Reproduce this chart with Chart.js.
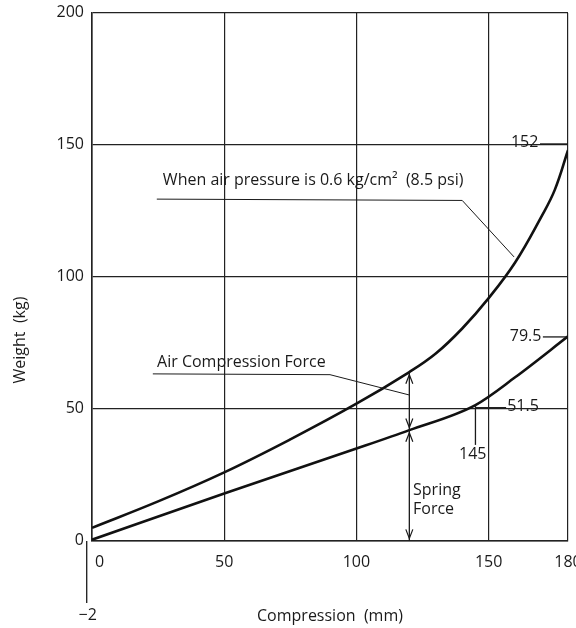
<!DOCTYPE html>
<html>
<head>
<meta charset="utf-8">
<script src="https://cdn.jsdelivr.net/npm/chart.js@4"></script>
<style>
  html, body { margin: 0; padding: 0; background: #fff; }
  #wrap { width: 576px; height: 628px; }
</style>
</head>
<body>
<div id="wrap"><canvas id="c" width="576" height="628"></canvas></div>
<script>
// compression (mm) vs weight (kg)
const upperX = [0, 25, 50, 75, 100, 120, 130, 140, 150, 160, 170, 175, 180];
const upperY = [5, 15, 26, 38.5, 52, 64, 71, 80.5, 92, 105.5, 123, 133, 148];
const lowerX = [0, 50, 100, 120, 145, 160, 180];
const lowerY = [0.5, 18, 35, 42, 51.5, 62, 77.5];

const xTicks = [0, 50, 100, 150, 180];
const yTicks = [0, 50, 100, 150, 200];

const FONT = '"Open Sans", "DejaVu Sans", sans-serif';

const toPts = (xs, ys) => xs.map((x, i) => ({ x: x, y: ys[i] }));

// labels, leader lines and arrows, all placed through the scales
const overlay = {
  id: "overlay",
  afterDraw(chart) {
    const ctx = chart.ctx;
    const sx = chart.scales.x;
    const sy = chart.scales.y;
    const px = (v) => sx.getPixelForValue(v);
    const py = (v) => sy.getPixelForValue(v);
    const area = chart.chartArea;

    ctx.save();
    ctx.fillStyle = "#1a1a1a";
    ctx.strokeStyle = "#1a1a1a";

    // tick labels
    ctx.font = "16px " + FONT;
    ctx.textBaseline = "middle";
    ctx.textAlign = "right";
    yTicks.forEach((t) => ctx.fillText(String(t), area.left - 8, py(t) - 1));
    xTicks.forEach((t) => {
      ctx.textAlign = t === 0 ? "left" : "center";
      ctx.fillText(String(t), t === 0 ? px(t) + 3 : px(t), area.bottom + 21);
    });

    // -2 mark below the origin
    ctx.lineWidth = 1.3;
    ctx.beginPath();
    ctx.moveTo(px(-2), area.bottom);
    ctx.lineTo(px(-2), area.bottom + 62);
    ctx.stroke();
    ctx.textAlign = "center";
    ctx.fillText("\u22122", px(-2) + 1, area.bottom + 74);

    // axis titles
    ctx.font = "16px " + FONT;
    ctx.fillText("Compression  (mm)", 330, area.bottom + 75);
    ctx.save();
    ctx.translate(20, 340);
    ctx.rotate(-Math.PI / 2);
    ctx.fillText("Weight  (kg)", 0, 0);
    ctx.restore();

    // annotation text
    ctx.textAlign = "left";
    ctx.fillText("When air pressure is 0.6 kg/cm\u00b2  (8.5 psi)", px(26.8), py(136.4));
    ctx.fillText("Air Compression Force", px(24.6), py(67.8));
    ctx.fillText("Spring", px(121.4), py(19.3));
    ctx.fillText("Force", px(121.4), py(12.1));
    ctx.fillText("152", px(158.4), py(150.8));
    ctx.fillText("79.5", px(158), py(77.3));
    ctx.fillText("51.5", px(157), py(51.1));
    ctx.textAlign = "center";
    ctx.fillText("145", px(144), py(32.6));

    // leader lines
    const poly = (pts, w) => {
      ctx.lineWidth = w;
      ctx.beginPath();
      pts.forEach((p, i) => (i ? ctx.lineTo(px(p[0]), py(p[1])) : ctx.moveTo(px(p[0]), py(p[1]))));
      ctx.stroke();
    };
    poly([[24.5, 129.5], [140, 129], [159.6, 107.6]], 1);
    poly([[23, 63.3], [90, 63], [120, 55.3]], 1);
    poly([[145, 51.5], [145, 36.4]], 1.3);
    poly([[145, 50.5], [156.6, 50.5]], 1.3);
    poly([[169.4, 150.4], [180, 150.4]], 1.3);
    poly([[170.5, 77.3], [180, 77.3]], 1.3);

    // double arrows at 120 mm
    const arrowHead = (x, y, dir) => {
      const X = px(x), Y = py(y);
      ctx.lineWidth = 1.2;
      ctx.beginPath();
      ctx.moveTo(X - 3.5, Y + dir * 9);
      ctx.lineTo(X, Y);
      ctx.lineTo(X + 3.5, Y + dir * 9);
      ctx.stroke();
    };
    poly([[120, 64], [120, 42]], 1.3);
    arrowHead(120, 63, 1);
    arrowHead(120, 43, -1);
    poly([[120, 42], [120, 0]], 1.3);
    arrowHead(120, 41, 1);
    arrowHead(120, 1, -1);

    ctx.restore();
  },
};

new Chart(document.getElementById("c"), {
  type: "line",
  data: {
    datasets: [
      {
        label: "Total",
        data: toPts(upperX, upperY),
        borderColor: "#111",
        borderWidth: 2.6,
        pointRadius: 0,
        tension: 0.4,
      },
      {
        label: "Spring",
        data: toPts(lowerX, lowerY),
        borderColor: "#111",
        borderWidth: 2.6,
        pointRadius: 0,
        cubicInterpolationMode: "monotone",
      },
    ],
  },
  options: {
    responsive: false,
    animation: false,
    layout: { padding: { left: 92, right: 8, top: 13, bottom: 87 } },
    plugins: {
      legend: { display: false },
      tooltip: { enabled: false },
    },
    scales: {
      x: {
        type: "linear",
        min: 0,
        max: 180,
        afterBuildTicks: (s) => { s.ticks = xTicks.map((v) => ({ value: v })); },
        ticks: { display: false },
        grid: { color: "#222", lineWidth: 1.2, drawTicks: false },
        border: { color: "#222", width: 1.6 },
      },
      y: {
        min: 0,
        max: 200,
        afterBuildTicks: (s) => { s.ticks = yTicks.map((v) => ({ value: v })); },
        ticks: { display: false },
        grid: { color: "#222", lineWidth: 1.2, drawTicks: false },
        border: { color: "#222", width: 1.6 },
      },
    },
  },
  plugins: [overlay],
});
</script>
</body>
</html>
